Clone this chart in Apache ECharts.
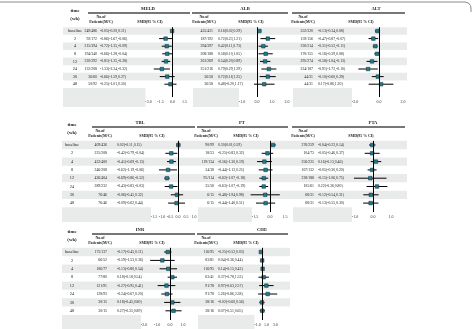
<!DOCTYPE html>
<html>
<head>
<meta charset="utf-8">
<script src="https://cdn.jsdelivr.net/npm/echarts@6/dist/echarts.min.js"></script>
<style>html,body{margin:0;padding:0;background:#fff}#main{width:476px;height:329px}</style>
</head>
<body>
<div id="main"></div>
<script>
var chart = echarts.init(document.getElementById('main'));
var FONT = '"Liberation Serif","DejaVu Serif",serif';
var SHADE = '#e9ebea';
var SQ = '#23798a';

// 时间点
var weeks = ['baseline', '2', '4', '8', '12', '24', '36', '48'];

// MELD
var meldN = ['249/486', '92/172', '215/394', '194/340', '220/392', '132/208', '36/60', '50/92'];
var meldEst = [-0.05, -0.86, -0.72, -0.66, -0.81, -1.33, -0.66, -0.25];
var meldLo = [-0.20, -1.67, -1.35, -1.28, -1.35, -2.34, -1.59, -1.01];
var meldHi = [0.11, -0.06, -0.09, -0.04, -0.28, -0.32, 0.27, 0.50];
// ALB
var albN = ['435/421', '187/192', '394/397', '208/188', '261/269', '251/216', '36/58', '36/58'];
var albEst = [0.16, 0.72, 0.42, 0.58, 0.54, 0.79, 0.72, 0.48];
var albLo = [0.02, 0.23, 0.11, 0.10, 0.20, 0.29, 0.18, -0.20];
var albHi = [0.29, 1.21, 0.73, 1.05, 0.89, 1.29, 1.25, 1.17];
// ALT
var altN = ['352/320', '159/156', '330/314', '170/155', '295/274', '224/187', '44/31', '44/31'];
var altEst = [-0.13, -0.47, -0.31, -0.16, -0.58, -0.91, -0.10, 0.17];
var altLo = [-0.34, -0.87, -0.52, -0.39, -1.04, -1.72, -0.60, -0.86];
var altHi = [0.08, -0.07, -0.11, 0.08, -0.13, -0.10, 0.39, 1.20];
// TBL
var tblN = ['409/436', '225/208', '432/400', '246/208', '436/404', '289/232', '76/46', '76/46'];
var tblEst = [0.02, -0.42, -0.41, -0.62, -0.69, -0.43, -0.06, -0.09];
var tblLo = [-0.11, -0.79, -0.69, -1.19, -0.86, -0.83, -0.45, -0.62];
var tblHi = [0.15, -0.04, -0.13, -0.06, -0.52, -0.03, 0.32, 0.44];
// PT
var ptN = ['90/99', '18/53', '119/134', '34/38', '95/114', '35/58', '6/15', '6/15'];
var ptEst = [0.30, -0.25, -0.56, -0.44, -0.62, -0.63, -0.48, -0.44];
var ptLo = [0.01, -0.83, -1.30, -1.12, -1.07, -1.07, -1.94, -1.40];
var ptHi = [0.59, 0.32, 0.19, 0.25, -0.18, -0.19, 0.98, 0.51];
// PTA
var ptaN = ['276/259', '104/73', '256/225', '167/132', '228/188', '105/61', '68/31', '68/31'];
var ptaEst = [-0.04, -0.05, 0.16, -0.05, -0.15, 0.22, -0.12, -0.13];
var ptaLo = [-0.22, -0.46, -0.13, -0.30, -1.06, -0.36, -0.54, -0.55];
var ptaHi = [0.14, 0.37, 0.46, 0.20, 0.75, 0.80, 0.31, 0.30];
// INR
var inrN = ['173/137', '66/52', '106/77', '77/80', '121/91', '128/93', '30/15', '30/15'];
var inrEst = [-0.17, -0.59, -0.13, 0.18, -0.27, -0.24, 0.18, 0.27];
var inrLo = [-0.45, -1.53, -0.80, -0.18, -0.95, -0.67, -0.45, -0.35];
var inrHi = [0.11, 0.36, 0.54, 0.54, 0.41, 0.20, 0.80, 0.89];
// CHE
var cheN = ['116/95', '83/81', '116/95', '63/41', '91/78', '91/78', '38/16', '38/16'];
var cheEst = [-0.25, 0.04, 0.14, 0.37, 0.97, 1.26, -0.02, 0.07];
var cheLo = [-0.52, -0.36, -0.15, -0.78, -0.63, -0.86, -0.60, -0.51];
var cheHi = [0.03, 0.44, 0.43, 1.53, 2.57, 3.38, 0.56, 0.65];

// 三行版面
var rowsCfg = [
    {c0: 31, bh: 7.6, axisY: 97, timeX: 75, tableL: 63, tableR: 407},
    {c0: 145, bh: 8.3, axisY: 212, timeX: 72, tableL: 62, tableR: 407},
    {c0: 252, bh: 8.4, axisY: 320, timeX: 72, tableL: 62, tableR: 290}
];

function mk(title, row, n, est, lo, hi, o) {
    o.title = title; o.row = row; o.n = n; o.est = est; o.lo = lo; o.hi = hi;
    return o;
}
var panels = [
    mk('MELD', 0, meldN, meldEst, meldLo, meldHi, {numR: 97, smdL: 100, hdrNo: 101, hdrSmd: 150, titleX: 148, lineL: 88, lineR: 190, zero: 172.5, ppu: 8, min: -3, max: 1.5, interval: 1.5}),
    mk('ALB', 0, albN, albEst, albLo, albHi, {numR: 213, smdL: 218, hdrNo: 204, hdrSmd: 251, titleX: 245, lineL: 192, lineR: 288, zero: 257, ppu: 15, min: -1, max: 2, interval: 1}),
    mk('ALT', 0, altN, altEst, altLo, altHi, {numR: 313, smdL: 318, hdrNo: 303, hdrSmd: 361, titleX: 376, lineL: 292, lineR: 405, zero: 379, ppu: 12, min: -2, max: 2, interval: 2}),
    mk('TBL', 1, tblN, tblEst, tblLo, tblHi, {numR: 107, smdL: 117, hdrNo: 100, hdrSmd: 152, titleX: 140, lineL: 92, lineR: 195, zero: 178, ppu: 16, min: -1.5, max: 1, interval: 0.5}),
    mk('PT', 1, ptN, ptEst, ptLo, ptHi, {numR: 214, smdL: 218, hdrNo: 206, hdrSmd: 246, titleX: 242, lineL: 197, lineR: 288, zero: 270, ppu: 10, min: -1.5, max: 1.5, interval: 1.5}),
    mk('PTA', 1, ptaN, ptaEst, ptaLo, ptaHi, {numR: 314, smdL: 318, hdrNo: 303, hdrSmd: 361, titleX: 373, lineL: 292, lineR: 405, zero: 373, ppu: 18, min: -1, max: 1, interval: 1}),
    mk('INR', 2, inrN, inrEst, inrLo, inrHi, {numR: 107, smdL: 117, hdrNo: 100, hdrSmd: 152, titleX: 140, lineL: 92, lineR: 195, zero: 170, ppu: 13, min: -2, max: 1, interval: 1}),
    mk('CHE', 2, cheN, cheEst, cheLo, cheHi, {numR: 214, smdL: 218, hdrNo: 206, hdrSmd: 246, titleX: 262, lineL: 197, lineR: 288, zero: 262, ppu: 4.5, min: -1, max: 3, interval: 1, ticks: [-1, 1, 3]})
];

function ci(e, l, h) {
    return e.toFixed(2) + '(' + l.toFixed(2) + ',' + h.toFixed(2) + ')';
}
function txt(x, y, s, size, bold, align) {
    return {type: 'text', x: x, y: y, z: 5, silent: true,
        style: {text: s, fontSize: size, fontFamily: FONT, fontWeight: bold ? 'bold' : 'normal',
            fill: '#1a1a1a', align: align || 'center', verticalAlign: 'middle'}};
}

var grids = [], xAxes = [], yAxes = [], series = [], graphics = [];

// 顶部边框
graphics.push({type: 'polyline', silent: true, z: 5,
    shape: {points: [[0, 2], [465, 2], [468.5, 3], [470.5, 5.5], [471, 8], [471, 12]]},
    style: {stroke: '#8a8a8a', lineWidth: 1, fill: null}});

rowsCfg.forEach(function (r) {
    graphics.push(txt(r.timeX, r.c0 - 20, 'time', 4.8, true));
    graphics.push(txt(r.timeX, r.c0 - 12, '(wk)', 4.8, true));
});

panels.forEach(function (P, k) {
    var r = rowsCfg[P.row];
    var first = k === 0 || panels[k - 1].row !== P.row;
    var top = r.c0 - r.bh / 2;
    var left = P.zero + P.min * P.ppu;
    var width = (P.max - P.min) * P.ppu;
    var height = r.axisY - top;
    grids.push({left: left, top: top, width: width, height: height, containLabel: false});
    var xa = {type: 'value', gridIndex: k, min: P.min, max: P.max, interval: P.interval,
        splitLine: {show: false},
        axisLine: {lineStyle: {color: '#000', width: 0.8}},
        axisTick: {length: 2, lineStyle: {color: '#000', width: 0.8}},
        axisLabel: {fontSize: 4, fontFamily: FONT, color: '#333', margin: 2.5,
            formatter: function (v) { return v.toFixed(1); }}};
    if (P.ticks) {
        xa.axisTick.customValues = P.ticks;
        xa.axisLabel.customValues = P.ticks;
    }
    xAxes.push(xa);
    yAxes.push({type: 'value', gridIndex: k, inverse: true, show: false,
        min: -0.5, max: -0.5 + height / r.bh});

    // 标题与表头
    graphics.push(txt(P.titleX, r.c0 - 22, P.title, 4.6, true));
    graphics.push({type: 'line', silent: true, z: 5,
        shape: {x1: P.lineL, y1: r.c0 - 18, x2: P.lineR, y2: r.c0 - 18},
        style: {stroke: '#4a4a4a', lineWidth: 1.3}});
    graphics.push(txt(P.hdrNo, r.c0 - 14.5, 'No.of', 3.9, true));
    graphics.push(txt(P.hdrNo, r.c0 - 9.5, 'Patients(M/C)', 3.9, true));
    graphics.push(txt(P.hdrSmd, r.c0 - 9.5, 'SMD(95 % CI)', 3.9, true));

    // 底部灰块 (文字列下方)
    var bandL = first ? r.tableL : P.lineL + 1;
    graphics.push({type: 'rect', silent: true, z: -1,
        shape: {x: bandL, y: r.c0 + 7.5 * r.bh, width: left - 3 - bandL, height: r.axisY + 10 - (r.c0 + 7.5 * r.bh)},
        style: {fill: SHADE}});

    if (first) {
        series.push({type: 'custom', xAxisIndex: k, yAxisIndex: k, z: 1, silent: true, clip: false,
            encode: {x: 0, y: 1},
            data: [[0, 0], [0, 2], [0, 4], [0, 6]],
            renderItem: function (params, api) {
                var y = api.coord([0, api.value(1)])[1];
                return {type: 'rect', shape: {x: r.tableL, y: y - r.bh / 2, width: r.tableR - r.tableL, height: r.bh},
                    style: {fill: SHADE}};
            }});
    }

    series.push({type: 'custom', name: P.title, xAxisIndex: k, yAxisIndex: k, z: 3, silent: true, clip: false,
        encode: {x: [1, 2, 3], y: 0},
        data: weeks.map(function (w, i) { return [i, P.est[i], P.lo[i], P.hi[i]]; }),
        renderItem: function (params, api) {
            var i = api.value(0);
            var c = api.coord([api.value(1), i]);
            var l = api.coord([api.value(2), i]);
            var h = api.coord([api.value(3), i]);
            var y = c[1];
            var kids = [
                txt(P.numR, y, P.n[i], 3.8, false, 'right'),
                txt(P.smdL, y, ci(P.est[i], P.lo[i], P.hi[i]), 3.8, false, 'left'),
                {type: 'line', shape: {x1: l[0], y1: y, x2: h[0], y2: y}, style: {stroke: '#000', lineWidth: 1}},
                {type: 'rect', shape: {x: c[0] - 1.8, y: y - 1.8, width: 3.6, height: 3.6},
                    style: {fill: SQ, stroke: '#0e3440', lineWidth: 0.5}}
            ];
            if (first) kids.push(txt(r.timeX, y, weeks[i], 4.3, false, 'center'));
            return {type: 'group', children: kids};
        },
        markLine: {silent: true, symbol: 'none', label: {show: false},
            lineStyle: {color: '#000', width: 1, type: 'solid'},
            data: [{xAxis: 0}]}
    });
});

var option = {
    backgroundColor: '#fff',
    animation: false,
    grid: grids,
    xAxis: xAxes,
    yAxis: yAxes,
    series: series,
    graphic: graphics
};
chart.setOption(option);
</script>
</body>
</html>
